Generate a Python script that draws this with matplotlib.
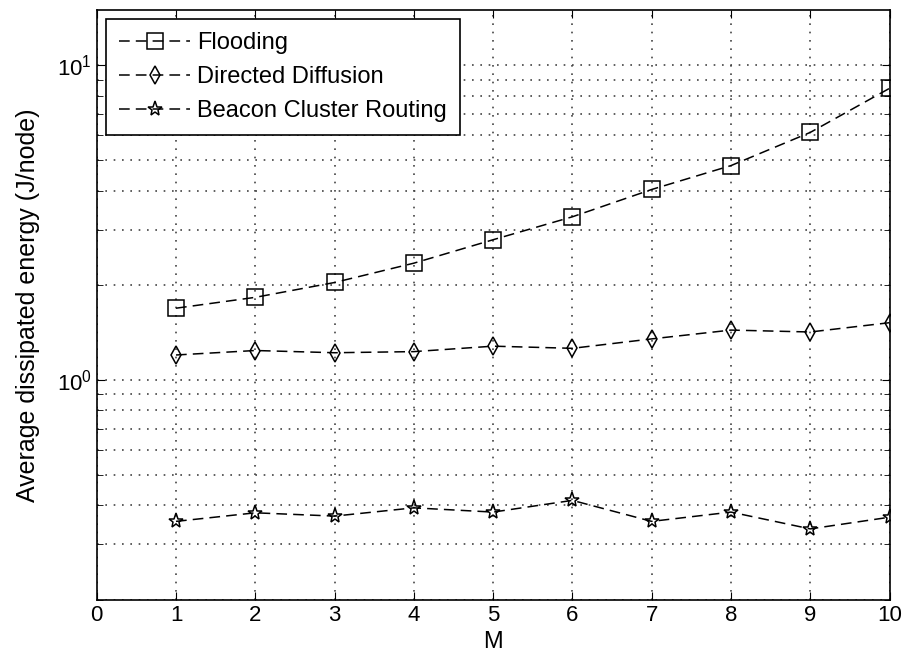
import matplotlib.pyplot as plt
import numpy as np

plt.rcParams["font.family"] = ["Liberation Sans", "DejaVu Sans"]

# Datos
m = [1, 2, 3, 4, 5, 6, 7, 8, 9, 10]
flooding = [1.69, 1.83, 2.04, 2.35, 2.79, 3.30, 4.03, 4.80, 6.12, 8.45]
directed = [1.20, 1.24, 1.22, 1.23, 1.28, 1.26, 1.35, 1.44, 1.42, 1.52]
beacon = [0.355, 0.378, 0.369, 0.392, 0.380, 0.414, 0.355, 0.380, 0.336, 0.366]

fig = plt.figure(figsize=(9.04, 6.62), dpi=100)
ax = fig.add_axes([0.107, 0.094, 0.877, 0.891])

estilo = dict(color="black", linestyle=(0, (7, 4)), linewidth=1.1, mfc="none", mec="black", mew=1.1)
ax.plot(m, flooding, marker="s", markersize=11, label="Flooding", **estilo)
ax.plot(m, directed, marker="d", markersize=9, label="Directed Diffusion", **estilo)
ax.plot(m, beacon, marker="*", markersize=11, label="Beacon Cluster Routing", **estilo)

ax.set_yscale("log")
ax.set_xlim(0, 10)
ax.set_ylim(0.2, 15)
ax.set_xticks(range(0, 11))

# Cuadricula estilo MATLAB
ax.grid(True, which="major", axis="both", linestyle=(0, (1, 4)), color="#444444", linewidth=1.2)
ax.grid(True, which="minor", axis="y", linestyle=(0, (1, 4)), color="#444444", linewidth=1.2)

ax.tick_params(which="both", direction="in", top=True, right=True, labelsize=16)
ax.tick_params(which="major", length=6)
ax.tick_params(which="minor", length=4)
ax.yaxis.set_minor_formatter(plt.NullFormatter())
for s in ax.spines.values():
    s.set_linewidth(1.2)

ax.set_xlabel("M", fontsize=17, labelpad=4)
ax.set_ylabel("Average dissipated energy (J/node)", fontsize=18, labelpad=12)

leg = ax.legend(loc="upper left", fontsize=17, fancybox=False, edgecolor="black",
                framealpha=1, handlelength=3.0, handletextpad=0.3,
                borderaxespad=0.4, labelspacing=0.5, borderpad=0.55)
leg.get_frame().set_linewidth(1.2)

plt.savefig("out.png", dpi=100)
